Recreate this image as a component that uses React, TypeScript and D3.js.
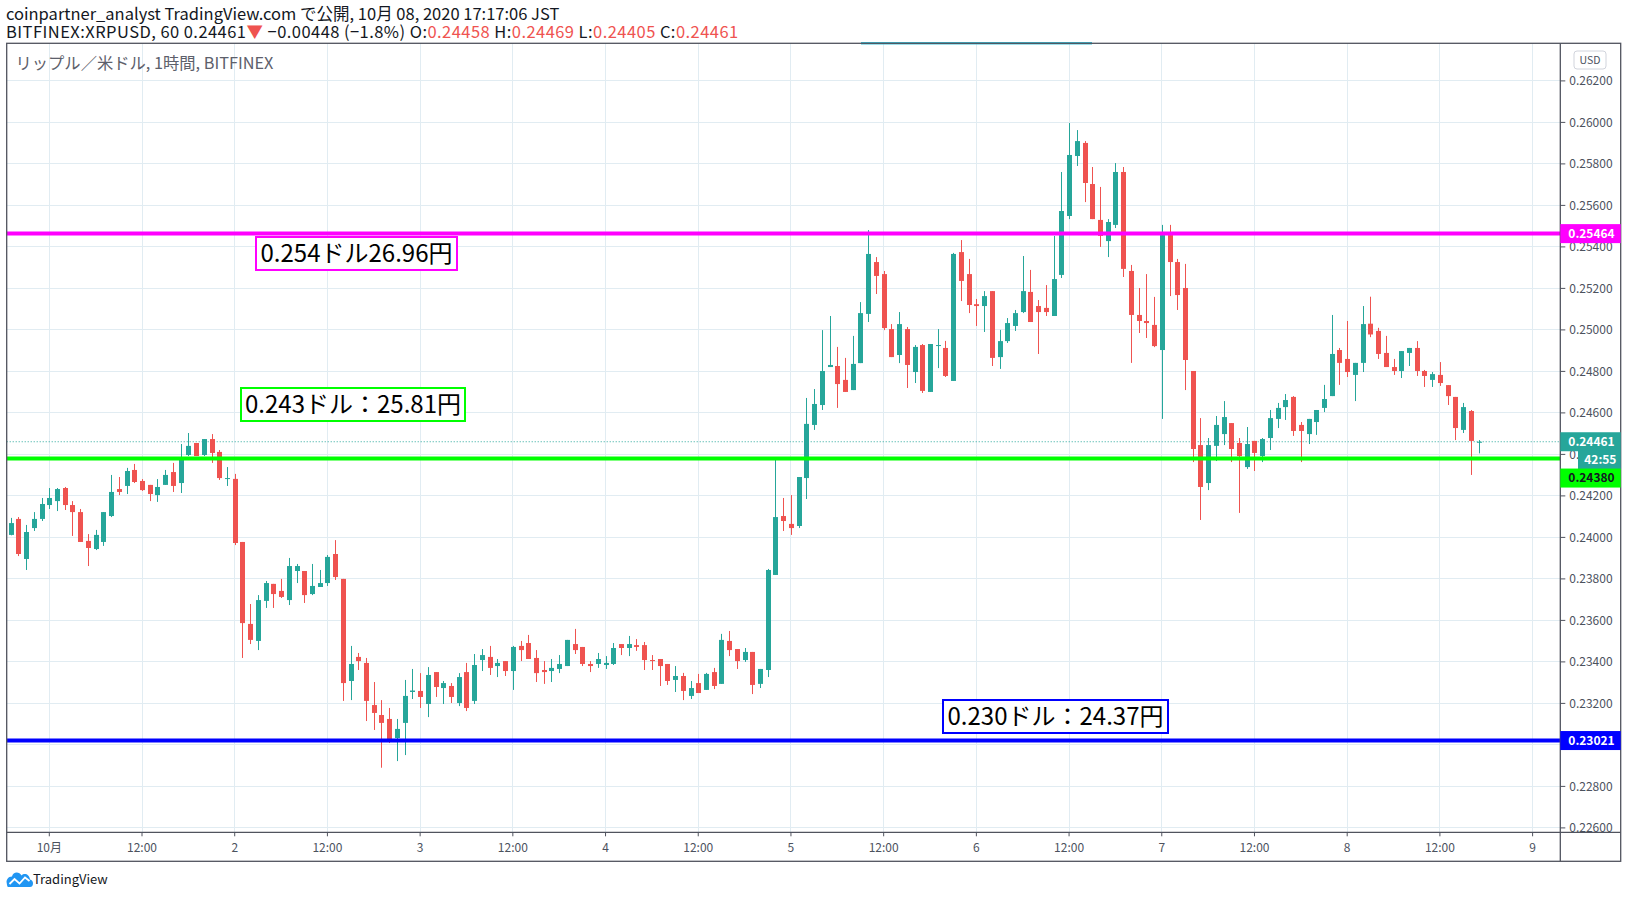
import * as d3 from "d3";
import { useEffect, useRef } from "react";

const WIDTH = 1627;
const HEIGHT = 898;
const PLOT = { left: 6.7, right: 1560.3, top: 43.3, bottom: 832.3 };
const AXIS = { right: 1620.7, bottom: 861.3 };
const FONT = '"Noto Sans CJK JP", "Noto Sans", sans-serif';
const UP = "#26a69a";
const DOWN = "#ef5350";

// hourly candles, the first one opens 2020-09-30 19:00
const FIRST_CANDLE = Date.UTC(2020, 8, 30, 19);

const opens = [
  0.24012, 0.24089, 0.23896, 0.24045, 0.24089, 0.24156, 0.24175, 0.24238, 0.24156, 0.24122,
  0.23983, 0.23944, 0.23978, 0.24103, 0.24233, 0.24248, 0.24325, 0.24272, 0.24253, 0.24204,
  0.24253, 0.24315, 0.24262, 0.24397, 0.24455, 0.24397, 0.24474, 0.24412, 0.24283, 0.24282,
  0.23978, 0.23583, 0.23501, 0.23694, 0.23776, 0.23742, 0.23698, 0.23838, 0.23838, 0.23727,
  0.23761, 0.2378, 0.2392, 0.238, 0.23308, 0.23424, 0.23395, 0.23192, 0.23144, 0.23125,
  0.23033, 0.23106, 0.23255, 0.2326, 0.23197, 0.23351, 0.23274, 0.23284, 0.23202, 0.23351,
  0.23212, 0.23409, 0.23424, 0.2338, 0.23404, 0.23356, 0.23477, 0.23491, 0.23419, 0.23361,
  0.23356, 0.23366, 0.2338, 0.23486, 0.23472, 0.2339, 0.2339, 0.23385, 0.2339, 0.23486,
  0.23467, 0.23481, 0.23481, 0.23409, 0.23414, 0.2339, 0.23313, 0.23332, 0.23236, 0.23298,
  0.23265, 0.23351, 0.23294, 0.23501, 0.23462, 0.23409, 0.23448, 0.23294, 0.23361, 0.23819,
  0.24103, 0.24065, 0.24055, 0.24286, 0.24542, 0.24638, 0.24821, 0.24826, 0.24759, 0.2471,
  0.2484, 0.25077, 0.25327, 0.25269, 0.25004, 0.24879, 0.25004, 0.24797, 0.24927, 0.24701,
  0.24925, 0.24913, 0.24754, 0.25375, 0.25269, 0.25124, 0.25115, 0.25187, 0.24869, 0.24946,
  0.25019, 0.25086, 0.25183, 0.25115, 0.25106, 0.25067, 0.25265, 0.25549, 0.25838, 0.25901,
  0.25703, 0.2553, 0.25428, 0.25506, 0.25761, 0.25284, 0.25072, 0.25043, 0.25024, 0.24903,
  0.25457, 0.25327, 0.25202, 0.24802, 0.24445, 0.24262, 0.24441, 0.24498, 0.24551, 0.24455,
  0.24339, 0.24465, 0.24392, 0.24479, 0.24571, 0.24628, 0.24677, 0.24542, 0.24498, 0.24556,
  0.24624, 0.24681, 0.24903, 0.2486, 0.24783, 0.24841, 0.2503, 0.24995, 0.24889, 0.24821,
  0.24802, 0.24889, 0.24913, 0.24802, 0.24759, 0.24783, 0.24734, 0.24677, 0.24518, 0.24609,
  0.24458,
];

const highs = [
  0.24094, 0.24098, 0.2406, 0.24122, 0.2419, 0.24238, 0.24238, 0.24243, 0.24175, 0.24137,
  0.24016, 0.24036, 0.24122, 0.24301, 0.24291, 0.24335, 0.24354, 0.24281, 0.24253, 0.24281,
  0.24325, 0.24359, 0.2445, 0.24503, 0.24455, 0.24474, 0.24498, 0.24421, 0.24339, 0.24306,
  0.23978, 0.23679, 0.23722, 0.2379, 0.23776, 0.238, 0.23901, 0.23872, 0.23838, 0.23872,
  0.23843, 0.23915, 0.23987, 0.238, 0.23477, 0.23443, 0.23419, 0.23303, 0.23216, 0.23178,
  0.23125, 0.23313, 0.23366, 0.23346, 0.23375, 0.23351, 0.23308, 0.23298, 0.23346, 0.23395,
  0.23438, 0.23462, 0.23477, 0.23414, 0.23404, 0.23477, 0.23501, 0.2353, 0.23457, 0.23404,
  0.23414, 0.23433, 0.23506, 0.23559, 0.23472, 0.23404, 0.23443, 0.23428, 0.23491, 0.23486,
  0.23525, 0.2351, 0.23496, 0.23433, 0.23414, 0.2339, 0.2338, 0.23347, 0.23308, 0.23342,
  0.23347, 0.23371, 0.23535, 0.23549, 0.23462, 0.23467, 0.23448, 0.23366, 0.23848, 0.24373,
  0.2419, 0.24204, 0.24291, 0.24672, 0.24715, 0.24999, 0.25067, 0.24918, 0.24865, 0.24971,
  0.25134, 0.25481, 0.25351, 0.25284, 0.25028, 0.25086, 0.25014, 0.24927, 0.24932, 0.24932,
  0.25004, 0.24947, 0.25371, 0.25433, 0.25342, 0.25149, 0.25187, 0.25187, 0.25, 0.25057,
  0.25096, 0.25356, 0.25289, 0.25144, 0.25216, 0.25453, 0.25761, 0.25997, 0.25963, 0.2591,
  0.25785, 0.25689, 0.25534, 0.25804, 0.25785, 0.25313, 0.25202, 0.25269, 0.25159, 0.25506,
  0.25506, 0.25342, 0.25318, 0.24802, 0.24575, 0.24479, 0.24585, 0.24657, 0.24551, 0.24479,
  0.24532, 0.24465, 0.24479, 0.24614, 0.24648, 0.24691, 0.24681, 0.24556, 0.24571, 0.24614,
  0.24735, 0.25072, 0.24913, 0.25043, 0.24841, 0.25115, 0.2516, 0.2501, 0.24971, 0.2486,
  0.24898, 0.24913, 0.24946, 0.24807, 0.24797, 0.24845, 0.24734, 0.24677, 0.24648, 0.24614,
  0.24469,
];

const lows = [
  0.2401, 0.2391, 0.23843, 0.24031, 0.24079, 0.24137, 0.24127, 0.24132, 0.24007, 0.23978,
  0.23862, 0.23939, 0.23959, 0.24098, 0.24204, 0.24209, 0.24262, 0.24224, 0.24175, 0.24171,
  0.24253, 0.24219, 0.24214, 0.24392, 0.24392, 0.24392, 0.24359, 0.24277, 0.24248, 0.23963,
  0.23419, 0.23486, 0.23457, 0.2366, 0.2366, 0.23708, 0.23674, 0.2378, 0.23684, 0.23722,
  0.23761, 0.23766, 0.23795, 0.23212, 0.23216, 0.23361, 0.23115, 0.23072, 0.2289, 0.23009,
  0.22922, 0.22951, 0.23221, 0.23178, 0.23134, 0.23231, 0.23197, 0.23202, 0.23187, 0.23163,
  0.23197, 0.23356, 0.23337, 0.23327, 0.23332, 0.23265, 0.23404, 0.23414, 0.23303, 0.23294,
  0.23303, 0.23346, 0.2338, 0.23438, 0.2338, 0.23351, 0.23371, 0.23366, 0.23385, 0.23433,
  0.23428, 0.23453, 0.23361, 0.23361, 0.23284, 0.23289, 0.23255, 0.23216, 0.23221, 0.2325,
  0.23265, 0.23269, 0.23294, 0.23428, 0.23366, 0.234, 0.23245, 0.23274, 0.23327, 0.23819,
  0.24031, 0.24012, 0.24045, 0.24185, 0.24518, 0.24614, 0.24821, 0.24624, 0.24701, 0.2471,
  0.2484, 0.25038, 0.25173, 0.24999, 0.24869, 0.2484, 0.2472, 0.24744, 0.24696, 0.24701,
  0.24816, 0.24773, 0.24754, 0.25139, 0.25081, 0.25019, 0.2499, 0.24826, 0.24812, 0.24937,
  0.24995, 0.25081, 0.25038, 0.24884, 0.25067, 0.25067, 0.2525, 0.25534, 0.2579, 0.25616,
  0.25534, 0.254, 0.25351, 0.25491, 0.25255, 0.24841, 0.24985, 0.24961, 0.24917, 0.24571,
  0.25163, 0.25096, 0.2471, 0.24363, 0.24084, 0.24228, 0.24368, 0.24445, 0.24363, 0.24118,
  0.2433, 0.2432, 0.24363, 0.24421, 0.24527, 0.24566, 0.24489, 0.24363, 0.2445, 0.24494,
  0.24604, 0.24681, 0.24735, 0.24773, 0.24657, 0.24797, 0.24965, 0.2486, 0.24821, 0.24783,
  0.24768, 0.24826, 0.24778, 0.24725, 0.24725, 0.2473, 0.24638, 0.24469, 0.24503, 0.24301,
  0.24405,
];

const closes = [
  0.24069, 0.2392, 0.24026, 0.24089, 0.24161, 0.2419, 0.24233, 0.24156, 0.24122, 0.23978,
  0.23949, 0.24012, 0.24122, 0.24219, 0.24219, 0.2432, 0.24267, 0.24228, 0.24209, 0.24243,
  0.24301, 0.24248, 0.24373, 0.24441, 0.24392, 0.24474, 0.24407, 0.24286, 0.24286, 0.23973,
  0.23587, 0.23506, 0.23698, 0.2378, 0.23727, 0.23713, 0.23862, 0.23862, 0.23722, 0.23766,
  0.2378, 0.23906, 0.23809, 0.23298, 0.2339, 0.23404, 0.23212, 0.23154, 0.23106, 0.23014,
  0.23077, 0.23236, 0.23262, 0.23231, 0.23337, 0.23279, 0.23298, 0.23231, 0.23327, 0.23178,
  0.23385, 0.23433, 0.23371, 0.23395, 0.23356, 0.23472, 0.23457, 0.23414, 0.23346, 0.23351,
  0.23371, 0.2339, 0.23506, 0.23457, 0.2339, 0.2338, 0.23414, 0.23395, 0.23467, 0.23467,
  0.23486, 0.23472, 0.23409, 0.23404, 0.2338, 0.23308, 0.23332, 0.2326, 0.23274, 0.2325,
  0.23342, 0.23284, 0.23506, 0.23457, 0.23404, 0.23448, 0.23289, 0.23366, 0.23843, 0.24098,
  0.24079, 0.24045, 0.24291, 0.24547, 0.24643, 0.24802, 0.24831, 0.24739, 0.24701, 0.24836,
  0.25081, 0.25366, 0.2526, 0.25009, 0.24869, 0.25028, 0.24831, 0.24918, 0.24706, 0.24932,
  0.24927, 0.24778, 0.25366, 0.25236, 0.2512, 0.25115, 0.25163, 0.24865, 0.24946, 0.25033,
  0.25081, 0.25187, 0.25038, 0.25086, 0.25086, 0.25245, 0.25573, 0.25843, 0.2591, 0.25708,
  0.25534, 0.25453, 0.2552, 0.25761, 0.25294, 0.25072, 0.25043, 0.25033, 0.24922, 0.25457,
  0.25327, 0.25168, 0.24855, 0.24426, 0.24243, 0.24445, 0.24542, 0.2458, 0.24426, 0.24392,
  0.2445, 0.24407, 0.24474, 0.24575, 0.24624, 0.24662, 0.24513, 0.24513, 0.24571, 0.24614,
  0.24667, 0.24884, 0.24841, 0.24797, 0.24841, 0.25028, 0.24978, 0.24884, 0.24821, 0.24802,
  0.24898, 0.24913, 0.24802, 0.24778, 0.24787, 0.24744, 0.24681, 0.24527, 0.24628, 0.24465,
  0.24461,
];

const priceTicks = [
  0.226, 0.228, 0.23, 0.232, 0.234, 0.236, 0.238, 0.24, 0.242, 0.244,
  0.246, 0.248, 0.25, 0.252, 0.254, 0.256, 0.258, 0.26, 0.262,
];
const timeTickLabels = [
  "10月", "12:00", "2", "12:00", "3", "12:00", "4", "12:00", "5",
  "12:00", "6", "12:00", "7", "12:00", "8", "12:00", "9",
];

// horizontal levels drawn on the chart
const levelValues = [0.25464, 0.2438, 0.23021];
const levelColors = ["#ff00ff", "#00ff00", "#0000ff"];
const levelLabelText = ["#ffffff", "#131722", "#ffffff"];
const levelNotes = ["0.254ドル26.96円", "0.243ドル：25.81円", "0.230ドル：24.37円"];

const lastPrice = 0.24461;
const countdown = "42:55";

// note boxes and axis label nudges (layout only)
const noteBoxes = [
  { x: 256, y: 237, w: 201 },
  { x: 241, y: 388, w: 224 },
  { x: 943, y: 700, w: 225 },
];
const labelShift = [0, 19.5, 0];

export default function App() {
  const ref = useRef<SVGSVGElement>(null);

  useEffect(() => {
    const svg = d3.select(ref.current);
    svg.selectAll("*").remove();

    const x = d3
      .scaleUtc()
      .domain([new Date(Date.UTC(2020, 9, 1)), new Date(Date.UTC(2020, 9, 9))])
      .range([49.3, 1532.6]);
    const y = d3.scaleLinear().domain([0.226, 0.262]).range([827.9, 80.9]);

    const timeTicks = d3.utcHour
      .every(12)!
      .range(new Date(Date.UTC(2020, 9, 1)), new Date(Date.UTC(2020, 9, 9, 1)));

    const candles = opens.map((o, i) => ({
      t: new Date(FIRST_CANDLE + i * 3600e3),
      o,
      h: highs[i],
      l: lows[i],
      c: closes[i],
    }));

    svg.append("rect").attr("width", WIDTH).attr("height", HEIGHT).attr("fill", "#ffffff");

    // grid
    const grid = svg.append("g").attr("stroke", "#e1ecf2").attr("stroke-width", 1).attr("shape-rendering", "crispEdges");
    grid
      .selectAll("line.h")
      .data(priceTicks)
      .join("line")
      .attr("class", "h")
      .attr("x1", PLOT.left)
      .attr("x2", PLOT.right)
      .attr("y1", (d) => y(d))
      .attr("y2", (d) => y(d));
    grid
      .selectAll("line.v")
      .data(timeTicks)
      .join("line")
      .attr("class", "v")
      .attr("x1", (d) => x(d))
      .attr("x2", (d) => x(d))
      .attr("y1", PLOT.top)
      .attr("y2", PLOT.bottom);

    // last price dotted line
    svg
      .append("line")
      .attr("x1", PLOT.left)
      .attr("x2", PLOT.right)
      .attr("y1", y(lastPrice))
      .attr("y2", y(lastPrice))
      .attr("stroke", UP)
      .attr("stroke-width", 1)
      .attr("stroke-dasharray", "1,2");

    // candles
    const cg = svg.append("g");
    cg.selectAll("line")
      .data(candles)
      .join("line")
      .attr("x1", (d) => Math.round(x(d.t)) + 0.5)
      .attr("x2", (d) => Math.round(x(d.t)) + 0.5)
      .attr("y1", (d) => y(d.h))
      .attr("y2", (d) => y(d.l))
      .attr("stroke", (d) => (d.c >= d.o ? UP : DOWN))
      .attr("stroke-width", 1);
    cg.selectAll("rect")
      .data(candles)
      .join("rect")
      .attr("x", (d) => Math.round(x(d.t)) - 2)
      .attr("width", 5)
      .attr("y", (d) => y(Math.max(d.o, d.c)))
      .attr("height", (d) => Math.max(1, Math.abs(y(d.o) - y(d.c))))
      .attr("fill", (d) => (d.c >= d.o ? UP : DOWN));

    // level lines
    svg
      .append("g")
      .selectAll("line")
      .data(levelValues)
      .join("line")
      .attr("x1", PLOT.left)
      .attr("x2", PLOT.right)
      .attr("y1", (d) => y(d))
      .attr("y2", (d) => y(d))
      .attr("stroke", (_, i) => levelColors[i])
      .attr("stroke-width", 4);

    // note boxes
    const notes = svg.append("g");
    levelNotes.forEach((txt, i) => {
      const b = noteBoxes[i];
      notes
        .append("rect")
        .attr("x", b.x)
        .attr("y", b.y)
        .attr("width", b.w)
        .attr("height", 33)
        .attr("fill", "#ffffff")
        .attr("stroke", levelColors[i])
        .attr("stroke-width", 2);
      notes
        .append("text")
        .attr("x", b.x + b.w / 2)
        .attr("y", b.y + 16.5)
        .attr("dy", "0.36em")
        .attr("text-anchor", "middle")
        .attr("font-family", FONT)
        .attr("font-size", 24)
        .attr("fill", "#000000")
        .text(txt);
    });

    // top highlight bar
    svg
      .append("line")
      .attr("x1", 861)
      .attr("x2", 1092)
      .attr("y1", PLOT.top)
      .attr("y2", PLOT.top)
      .attr("stroke", "#3cc0d8")
      .attr("stroke-width", 2.5);

    // frame
    const frame = svg.append("g").attr("stroke", "#50535e").attr("stroke-width", 1.3).attr("fill", "none");
    frame
      .append("rect")
      .attr("x", PLOT.left)
      .attr("y", PLOT.top)
      .attr("width", AXIS.right - PLOT.left)
      .attr("height", AXIS.bottom - PLOT.top);
    frame.append("line").attr("x1", PLOT.left).attr("x2", AXIS.right).attr("y1", PLOT.bottom).attr("y2", PLOT.bottom);
    frame.append("line").attr("x1", PLOT.right).attr("x2", PLOT.right).attr("y1", PLOT.top).attr("y2", AXIS.bottom);

    // y axis
    const ya = svg.append("g").attr("font-family", FONT).attr("font-size", 12).attr("fill", "#4c525e");
    ya.selectAll("line")
      .data(priceTicks)
      .join("line")
      .attr("x1", PLOT.right)
      .attr("x2", PLOT.right + 5)
      .attr("y1", (d) => y(d))
      .attr("y2", (d) => y(d))
      .attr("stroke", "#50535e");
    ya.selectAll("text")
      .data(priceTicks)
      .join("text")
      .attr("x", PLOT.right + 9)
      .attr("y", (d) => y(d))
      .attr("dy", "0.35em")
      .text((d) => d.toFixed(5));

    // x axis
    const xa = svg.append("g").attr("font-family", FONT).attr("font-size", 12).attr("fill", "#4c525e");
    xa.selectAll("line")
      .data(timeTicks)
      .join("line")
      .attr("x1", (d) => x(d))
      .attr("x2", (d) => x(d))
      .attr("y1", PLOT.bottom)
      .attr("y2", PLOT.bottom + 4)
      .attr("stroke", "#50535e");
    xa.selectAll("text")
      .data(timeTicks)
      .join("text")
      .attr("x", (d) => x(d))
      .attr("y", 848)
      .attr("dy", "0.35em")
      .attr("text-anchor", "middle")
      .text((_, i) => timeTickLabels[i]);

    // USD badge
    svg
      .append("rect")
      .attr("x", 1574)
      .attr("y", 51)
      .attr("width", 32)
      .attr("height", 18)
      .attr("rx", 3)
      .attr("fill", "#ffffff")
      .attr("stroke", "#d1d4dc");
    svg
      .append("text")
      .attr("x", 1590)
      .attr("y", 60)
      .attr("dy", "0.35em")
      .attr("text-anchor", "middle")
      .attr("font-family", FONT)
      .attr("font-size", 10.5)
      .attr("fill", "#4c525e")
      .text("USD");

    // price labels on the axis
    const axisLabel = (cy: number, fill: string, color: string, txt: string, x0 = PLOT.right) => {
      svg
        .append("rect")
        .attr("x", x0)
        .attr("y", cy - 9.5)
        .attr("width", AXIS.right - x0)
        .attr("height", 19)
        .attr("fill", fill);
      svg
        .append("text")
        .attr("x", (x0 + AXIS.right) / 2 + 1)
        .attr("y", cy)
        .attr("dy", "0.35em")
        .attr("text-anchor", "middle")
        .attr("font-family", FONT)
        .attr("font-size", 12)
        .attr("font-weight", 700)
        .attr("fill", color)
        .text(txt);
    };
    levelValues.forEach((v, i) => {
      if (i === 1) return;
      axisLabel(y(v) + labelShift[i], levelColors[i], levelLabelText[i], v.toFixed(5));
    });
    axisLabel(y(lastPrice), UP, "#ffffff", lastPrice.toFixed(5));
    axisLabel(y(lastPrice) + 18.5, UP, "#ffffff", countdown, 1578);
    axisLabel(y(levelValues[1]) + labelShift[1], levelColors[1], levelLabelText[1], levelValues[1].toFixed(5));

    // header
    const head = svg.append("g").attr("font-family", FONT).attr("font-size", 16.5).attr("fill", "#131722");
    head.append("text").attr("x", 6).attr("y", 20).text("coinpartner_analyst TradingView.com で公開, 10月 08, 2020 17:17:06 JST");
    const l2 = head.append("text").attr("x", 6).attr("y", 37.5).attr("letter-spacing", 0.45);
    const parts: [string, boolean][] = [
      ["BITFINEX:XRPUSD, 60 0.24461", false],
      ["▼", true],
      [" −0.00448 (−1.8%) O:", false],
      ["0.24458", true],
      [" H:", false],
      ["0.24469", true],
      [" L:", false],
      ["0.24405", true],
      [" C:", false],
      ["0.24461", true],
    ];
    parts.forEach(([t, red]) => {
      l2.append("tspan").attr("fill", red ? DOWN : "#131722").text(t);
    });

    svg
      .append("text")
      .attr("x", 15.5)
      .attr("y", 68.5)
      .attr("font-family", FONT)
      .attr("font-size", 16.3)
      .attr("fill", "#5d606b")
      .text("リップル／米ドル, 1時間, BITFINEX");

    // footer logo
    svg
      .append("path")
      .attr(
        "d",
        "M8,887 L30,887 C34,887 34,880 30,879.5 C29.5,874.5 24.5,872.5 21.5,875.5 C19.5,871.5 13,871.5 12,876.5 C8,876.5 6,880 6.7,883 C7,885.5 7.5,887 8,887 Z"
      )
      .attr("fill", "#2196f3");
    svg
      .append("path")
      .attr("d", "M9.5,884 L14.5,879 L19.5,883.5 L25,877.5 L29.5,881")
      .attr("fill", "none")
      .attr("stroke", "#ffffff")
      .attr("stroke-width", 1.8);
    svg
      .append("text")
      .attr("x", 33)
      .attr("y", 884)
      .attr("font-family", FONT)
      .attr("font-size", 13)
      .attr("fill", "#131722")
      .text("TradingView");
  }, []);

  return (
    <svg
      ref={ref}
      width={WIDTH}
      height={HEIGHT}
      viewBox={`0 0 ${WIDTH} ${HEIGHT}`}
      style={{ position: "absolute", left: 0, top: 0 }}
      role="img"
      aria-label="XRPUSD hourly candlestick chart with three price levels"
    />
  );
}
